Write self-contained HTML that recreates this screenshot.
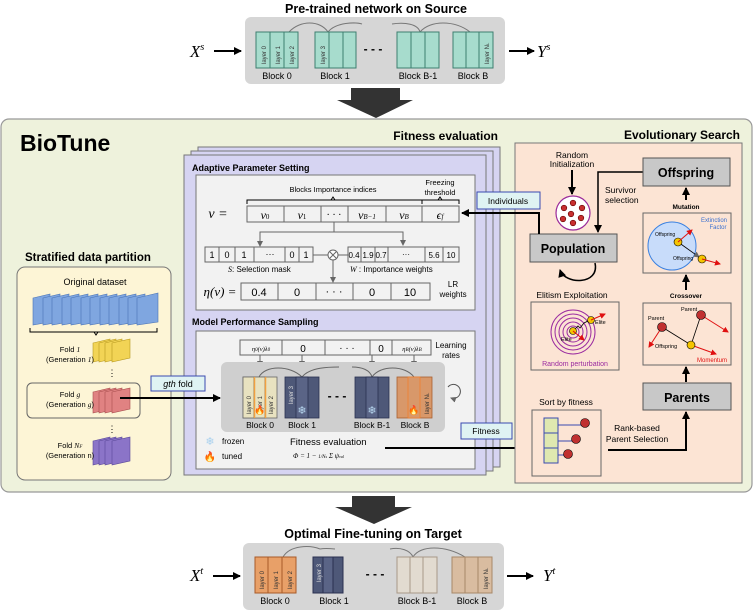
<!DOCTYPE html>
<html><head><meta charset="utf-8"><style>
html,body{margin:0;padding:0;background:#fff}
svg{display:block;font-family:"Liberation Sans",sans-serif}
.m{font-family:"Liberation Serif",serif;font-style:italic}
</style></head><body>
<svg width="753" height="611" viewBox="0 0 753 611" xmlns="http://www.w3.org/2000/svg">
<defs>
<marker id="ah" markerWidth="8" markerHeight="8" refX="7" refY="4" orient="auto" markerUnits="userSpaceOnUse"><path d="M0,0 L8,4 L0,8 z" fill="#000"/></marker>
<marker id="ahs" markerWidth="6" markerHeight="6" refX="5" refY="3" orient="auto" markerUnits="userSpaceOnUse"><path d="M0,0 L6,3 L0,6 z" fill="#666"/></marker>
<marker id="ahr" markerWidth="6" markerHeight="6" refX="5" refY="3" orient="auto" markerUnits="userSpaceOnUse"><path d="M0,0 L6,3 L0,6 z" fill="#e01010"/></marker>
</defs>

<!-- TOP -->
<text x="376" y="13" font-size="12.5" font-weight="bold" text-anchor="middle">Pre-trained network on Source</text>
<rect x="245" y="17" width="260" height="67" rx="6" fill="#d6d6d6"/>
<path d="M289,32 C300,20 320,20 328,32 M328,32 C336,22 356,22 362,24" fill="none" stroke="#777"/>
<path d="M392,24 C405,22 418,24 420,32 M420,32 C430,20 455,20 470,32" fill="none" stroke="#777"/>
<g fill="#a7dccd" stroke="#3e7f70" stroke-width="1">
<rect x="256" y="32" width="42" height="36"/><rect x="256" y="32" width="14" height="36"/><rect x="270" y="32" width="14" height="36"/>
<rect x="315" y="32" width="41" height="36"/><rect x="315" y="32" width="14" height="36"/><rect x="329" y="32" width="14" height="36"/>
<rect x="397" y="32" width="42" height="36"/><rect x="397" y="32" width="14" height="36"/><rect x="411" y="32" width="14" height="36"/>
<rect x="453" y="32" width="40" height="36"/><rect x="453" y="32" width="13" height="36"/><rect x="466" y="32" width="13" height="36"/>
</g>
<g font-size="6" fill="#333">
<text transform="translate(266,64) rotate(-90)">layer 0</text><text transform="translate(280,64) rotate(-90)">layer 1</text><text transform="translate(294,64) rotate(-90)">layer 2</text>
<text transform="translate(325,64) rotate(-90)">layer 3</text><text transform="translate(489,64) rotate(-90)">layer N<tspan font-size="4">L</tspan></text>
</g>
<text x="373" y="53" font-size="12" font-weight="bold" text-anchor="middle">- - -</text>
<g font-size="9" text-anchor="middle"><text x="277" y="79">Block 0</text><text x="335" y="79">Block 1</text><text x="418" y="79">Block B-1</text><text x="473" y="79">Block B</text></g>
<text x="190" y="57" font-size="17" class="m">X<tspan font-size="10" dy="-7">s</tspan></text>
<line x1="214" y1="51" x2="241" y2="51" stroke="#000" stroke-width="2" marker-end="url(#ah)"/>
<line x1="509" y1="51" x2="534" y2="51" stroke="#000" stroke-width="2" marker-end="url(#ah)"/>
<text x="537" y="57" font-size="17" class="m">Y<tspan font-size="10" dy="-7">s</tspan></text>
<path d="M351,88 H400 V100 H413 L376,118 L337,100 H351 Z" fill="#333"/>

<!-- BIOTUNE -->
<rect x="1" y="119" width="751" height="373" rx="8" fill="#eef2dc" stroke="#999" stroke-width="1.2"/>
<text x="20" y="151" font-size="23" font-weight="bold">BioTune</text>
<text x="498" y="140" font-size="12" font-weight="bold" text-anchor="end">Fitness evaluation</text>
<text x="740" y="139" font-size="12" font-weight="bold" text-anchor="end">Evolutionary Search</text>

<!-- left -->
<text x="25" y="261" font-size="11.5" font-weight="bold">Stratified data partition</text>
<rect x="17" y="267" width="154" height="213" rx="8" fill="#fdf5d6" stroke="#777"/>
<text x="95" y="285" font-size="9" text-anchor="middle">Original dataset</text>
<g fill="#7fa6e0" stroke="#4a73b5" stroke-width="0.6">
<path d="M33,298 L50,294 L50,322 L33,325Z"/><path d="M43,298 L60,294 L60,322 L43,325Z"/><path d="M52,298 L69,294 L69,322 L52,325Z"/><path d="M62,298 L79,294 L79,322 L62,325Z"/><path d="M71,298 L88,294 L88,322 L71,325Z"/><path d="M81,298 L98,294 L98,322 L81,325Z"/><path d="M90,298 L107,294 L107,322 L90,325Z"/><path d="M100,298 L117,294 L117,322 L100,325Z"/><path d="M109,298 L126,294 L126,322 L109,325Z"/><path d="M119,298 L136,294 L136,322 L119,325Z"/><path d="M128,298 L145,294 L145,322 L128,325Z"/><path d="M137,298 L158,293 L158,322 L137,325Z"/>
</g>
<path d="M30,328 V332 H157 V328 M94,332 L96,335 L98,332" fill="none" stroke="#000" stroke-width="1"/>
<g fill="#f2d455" stroke="#b89a20" stroke-width="0.6"><path d="M93,343 L110,339 L110,358 L93,362Z"/><path d="M99,343 L116,339 L116,358 L99,362Z"/><path d="M105,343 L122,339 L122,358 L105,362Z"/><path d="M112,343 L130,339 L130,358 L112,362Z"/></g>
<text x="70" y="352" font-size="7.5" text-anchor="middle">Fold <tspan class="m">1</tspan></text>
<text x="70" y="362" font-size="7.5" text-anchor="middle">(Generation <tspan class="m">1</tspan>)</text>
<text x="112" y="376" font-size="9" text-anchor="middle">⋮</text>
<rect x="27" y="383" width="113" height="35" rx="5" fill="#fdf5d6" stroke="#666"/>
<g fill="#e08282" stroke="#a84e4e" stroke-width="0.6"><path d="M93,392 L110,388 L110,409 L93,413Z"/><path d="M99,392 L116,388 L116,409 L99,413Z"/><path d="M105,392 L122,388 L122,409 L105,413Z"/><path d="M112,392 L130,388 L130,409 L112,413Z"/></g>
<text x="70" y="397" font-size="7.5" text-anchor="middle">Fold <tspan class="m">g</tspan></text>
<text x="70" y="407" font-size="7.5" text-anchor="middle">(Generation <tspan class="m">g</tspan>)</text>
<text x="112" y="432" font-size="9" text-anchor="middle">⋮</text>
<g fill="#8b74c8" stroke="#5a4898" stroke-width="0.6"><path d="M93,441 L110,437 L110,461 L93,465Z"/><path d="M99,441 L116,437 L116,461 L99,465Z"/><path d="M105,441 L122,437 L122,461 L105,465Z"/><path d="M112,441 L130,437 L130,461 L112,465Z"/></g>
<text x="70" y="448" font-size="7.5" text-anchor="middle">Fold <tspan class="m">N<tspan font-size="5">F</tspan></tspan></text>
<text x="70" y="458" font-size="7.5" text-anchor="middle">(Generation n)</text>

<!-- purple stack -->
<rect x="198" y="147" width="302" height="320" fill="#d6d4f2" stroke="#777"/>
<rect x="191" y="151" width="302" height="320" fill="#d6d4f2" stroke="#777"/>
<rect x="184" y="155" width="302" height="320" fill="#d6d4f2" stroke="#777"/>
<text x="192" y="171" font-size="9" font-weight="bold">Adaptive Parameter Setting</text>
<rect x="196" y="175" width="279" height="135" fill="#f2f2f2" stroke="#777"/>
<text x="333" y="192" font-size="7.5" text-anchor="middle">Blocks Importance indices</text>
<text x="440" y="185" font-size="7.5" text-anchor="middle">Freezing</text>
<text x="440" y="195" font-size="7.5" text-anchor="middle">threshold</text>
<path d="M247,204 V200 H422 V204 M331,200 L333,197 L335,200 M422,200 H459 V204 M438,200 L440,197 L442,200" fill="none" stroke="#000"/>
<text x="218" y="218" font-size="14" class="m" text-anchor="middle">ν =</text>
<g fill="#f2f2f2" stroke="#666"><rect x="247" y="206" width="212" height="16"/></g>
<path d="M284,206 V222 M321,206 V222 M348,206 V222 M386,206 V222 M422,206 V222" stroke="#666"/>
<g font-size="12" class="m" text-anchor="middle"><text x="265" y="219">ν<tspan font-size="7" font-style="normal">0</tspan></text><text x="302" y="219">ν<tspan font-size="7" font-style="normal">1</tspan></text><text x="334" y="218" font-style="normal" font-size="10">· · ·</text><text x="367" y="219">ν<tspan font-size="7">B−1</tspan></text><text x="404" y="219">ν<tspan font-size="7">B</tspan></text><text x="440" y="219">ϵ<tspan font-size="7">f</tspan></text></g>
<path d="M334,222 V232 H260 V245 M334,232 H403 V245" fill="none" stroke="#666" marker-end="url(#ahs)"/>
<line x1="260" y1="232" x2="260" y2="246" stroke="#666" marker-end="url(#ahs)"/>
<rect x="205" y="247" width="108" height="15" fill="#f2f2f2" stroke="#666"/>
<path d="M219,247 V262 M235,247 V262 M254,247 V262 M285,247 V262 M299,247 V262" stroke="#666"/>
<g font-size="9" text-anchor="middle"><text x="212" y="258">1</text><text x="227" y="258">0</text><text x="244" y="258">1</text><text x="270" y="257">···</text><text x="292" y="258">0</text><text x="306" y="258">1</text></g>
<line x1="313" y1="255" x2="328" y2="255" stroke="#666"/><line x1="338" y1="255" x2="348" y2="255" stroke="#666"/>
<circle cx="333" cy="255" r="5" fill="#fff" stroke="#666"/><path d="M330,252 L336,258 M336,252 L330,258" stroke="#666"/>
<line x1="333" y1="260" x2="333" y2="282" stroke="#666" marker-end="url(#ahs)"/>
<rect x="348" y="247" width="111" height="15" fill="#f2f2f2" stroke="#666"/>
<path d="M361,247 V262 M375,247 V262 M388,247 V262 M425,247 V262 M443,247 V262" stroke="#666"/>
<g font-size="8" text-anchor="middle"><text x="354" y="258">0.4</text><text x="368" y="258">1.9</text><text x="381" y="258">0.7</text><text x="406" y="257">···</text><text x="434" y="258">5.6</text><text x="451" y="258">10</text></g>
<text x="228" y="272" font-size="8"><tspan class="m">S</tspan>: Selection mask</text>
<text x="350" y="272" font-size="8"><tspan class="m">W</tspan> : Importance weights</text>
<text x="220" y="296" font-size="13" class="m" text-anchor="middle">η(ν) =</text>
<rect x="241" y="283" width="189" height="17" fill="#f2f2f2" stroke="#666"/>
<path d="M278,283 V300 M316,283 V300 M353,283 V300 M391,283 V300" stroke="#666"/>
<g font-size="11" text-anchor="middle"><text x="259" y="296">0.4</text><text x="297" y="296">0</text><text x="334" y="295">· · ·</text><text x="372" y="296">0</text><text x="410" y="296">10</text></g>
<text x="453" y="287" font-size="8" text-anchor="middle">LR</text><text x="453" y="297" font-size="8" text-anchor="middle">weights</text>

<text x="192" y="325" font-size="9" font-weight="bold">Model Performance Sampling</text>
<rect x="196" y="331" width="279" height="138" fill="#f2f2f2" stroke="#777"/>
<rect x="240" y="340" width="191" height="15" fill="#f2f2f2" stroke="#666"/>
<path d="M282,340 V355 M325,340 V355 M370,340 V355 M392,340 V355" stroke="#666"/>
<g text-anchor="middle"><text x="261" y="351" font-size="6.5" class="m">η<tspan font-size="5">0</tspan>(ν)λ<tspan font-size="5">0</tspan></text><text x="303" y="352" font-size="10">0</text><text x="347" y="351" font-size="10">· · ·</text><text x="381" y="352" font-size="10">0</text><text x="412" y="351" font-size="6.5" class="m">η<tspan font-size="5">B</tspan>(ν)λ<tspan font-size="5">B</tspan></text></g>
<text x="451" y="348" font-size="8" text-anchor="middle">Learning</text><text x="451" y="358" font-size="8" text-anchor="middle">rates</text>
<g stroke="#666" marker-end="url(#ahs)"><line x1="260" y1="355" x2="260" y2="366"/><line x1="302" y1="355" x2="302" y2="366"/><line x1="372" y1="355" x2="372" y2="366"/><line x1="414" y1="355" x2="414" y2="366"/></g>
<rect x="221" y="362" width="224" height="70" rx="6" fill="#cfcfcf"/>
<path d="M259,377 C265,365 290,365 302,377 M302,377 C310,367 330,367 339,367" fill="none" stroke="#666"/>
<path d="M352,367 C362,367 370,370 372,377 M372,377 C380,365 405,365 414,377" fill="none" stroke="#666"/>
<g stroke="#666" stroke-width="0.8">
<rect x="243" y="377" width="34" height="41" fill="#e8e2c0"/><rect x="243" y="377" width="11" height="41" fill="#e8e2c0"/><rect x="254" y="377" width="11" height="41" fill="#e8e2c0"/>
<line x1="254.5" y1="377" x2="254.5" y2="418" stroke="#f0a040" stroke-width="1.5"/><line x1="265.5" y1="377" x2="265.5" y2="418" stroke="#f0a040" stroke-width="1.5"/>
<rect x="285" y="377" width="34" height="41" fill="#4e5878" stroke="#2a3050"/><rect x="296" y="377" width="12" height="41" fill="#5a6486" stroke="#2a3050"/>
<rect x="355" y="377" width="34" height="41" fill="#4e5878" stroke="#2a3050"/><rect x="366" y="377" width="12" height="41" fill="#5a6486" stroke="#2a3050"/>
<rect x="397" y="377" width="35" height="41" fill="#d8986a" stroke="#a86030"/><rect x="408" y="377" width="12" height="41" fill="#d8986a" stroke="#f08030"/>
</g>
<g font-size="6" fill="#333"><text transform="translate(251,414) rotate(-90)">layer 0</text><text transform="translate(262,414) rotate(-90)">layer 1</text><text transform="translate(273,414) rotate(-90)">layer 2</text><text transform="translate(293,404) rotate(-90)" fill="#ddd">layer 3</text><text transform="translate(429,414) rotate(-90)">layer N<tspan font-size="4">L</tspan></text></g>
<text x="260" y="413" font-size="9" text-anchor="middle" fill="#f06010">🔥</text>
<text x="302" y="414" font-size="11" text-anchor="middle" fill="#b8d8f0">❄</text>
<text x="372" y="414" font-size="11" text-anchor="middle" fill="#b8d8f0">❄</text>
<text x="414" y="413" font-size="9" text-anchor="middle" fill="#f06010">🔥</text>
<text x="337" y="400" font-size="12" font-weight="bold" text-anchor="middle">- - -</text>
<g font-size="8.5" text-anchor="middle"><text x="260" y="428">Block 0</text><text x="302" y="428">Block 1</text><text x="372" y="428">Block B-1</text><text x="415" y="428">Block B</text></g>
<path d="M448,387 A7,7 0 1,1 451,398" fill="none" stroke="#555" marker-end="url(#ahs)"/>
<text x="210" y="445" font-size="11" fill="#a8d0ee" text-anchor="middle">❄</text><text x="222" y="444" font-size="8">frozen</text>
<text x="210" y="460" font-size="10" fill="#f06010" text-anchor="middle">🔥</text><text x="222" y="459" font-size="8">tuned</text>
<text x="290" y="445" font-size="9.5">Fitness evaluation</text>
<text x="293" y="458" font-size="7" class="m">Φ = 1 − <tspan font-size="5">1/N<tspan font-size="4">s</tspan></tspan> Σ ψ<tspan font-size="4">val</tspan></text>
<line x1="385" y1="448" x2="531" y2="448" stroke="#000" stroke-width="2" marker-end="url(#ah)"/>
<rect x="461" y="423" width="51" height="16" fill="#dff3f3" stroke="#3a4ab0"/>
<text x="486" y="434" font-size="8.5" text-anchor="middle">Fitness</text>

<!-- gth fold connector (on top of panels) -->
<line x1="120" y1="398" x2="220" y2="398" stroke="#000" stroke-width="2" marker-end="url(#ah)"/>
<rect x="151" y="376" width="54" height="15" fill="#dff3f3" stroke="#3a4ab0"/>
<text x="178" y="387" font-size="9" text-anchor="middle"><tspan font-style="italic">gth</tspan> fold</text>

<!-- evolutionary -->
<rect x="515" y="143" width="227" height="340" fill="#fce4d4" stroke="#777"/>
<text x="572" y="158" font-size="8.5" text-anchor="middle">Random</text>
<text x="572" y="167" font-size="8.5" text-anchor="middle">Initialization</text>
<line x1="572" y1="170" x2="572" y2="194" stroke="#000" stroke-width="2" marker-end="url(#ah)"/>
<circle cx="573" cy="213" r="17" fill="#fff" stroke="#9a2a9a" stroke-width="1.2"/>
<g fill="#c83030" stroke="#600" stroke-width="0.6"><circle cx="573" cy="203" r="2.8"/><circle cx="564" cy="208" r="2.8"/><circle cx="582" cy="208" r="2.8"/><circle cx="571" cy="214" r="2.8"/><circle cx="563" cy="219" r="2.8"/><circle cx="581" cy="218" r="2.8"/><circle cx="573" cy="223" r="2.8"/></g>
<rect x="530" y="234" width="87" height="28" fill="#c8c8c8" stroke="#555"/>
<text x="573" y="253" font-size="12.5" font-weight="bold" text-anchor="middle">Population</text>
<path d="M643,172 H598 V232" fill="none" stroke="#000" stroke-width="1.5" marker-end="url(#ah)"/>
<text x="605" y="193" font-size="8.5">Survivor</text><text x="605" y="203" font-size="8.5">selection</text>
<path d="M539,234 V213 H462" fill="none" stroke="#000" stroke-width="2" marker-end="url(#ah)"/>
<rect x="477" y="192" width="63" height="17" fill="#dff3f3" stroke="#3a4ab0"/>
<text x="508" y="204" font-size="8.5" text-anchor="middle">Individuals</text>
<path d="M595,263 C600,285 565,285 560,270" fill="none" stroke="#000" stroke-width="1.5" marker-end="url(#ah)"/>
<text x="572" y="298" font-size="8.5" text-anchor="middle">Elitism Exploitation</text>
<rect x="531" y="302" width="88" height="68" fill="#fce4d4" stroke="#666"/>
<g fill="none" stroke="#9a2aa0" stroke-width="1"><circle cx="573" cy="332" r="6"/><circle cx="573" cy="332" r="10"/><circle cx="573" cy="332" r="14"/><circle cx="573" cy="332" r="18"/><circle cx="573" cy="332" r="22"/></g>
<path d="M573,331 L578,326 L580,328 L584,323 L588,321" fill="none" stroke="#000" stroke-width="0.8"/>
<circle cx="573" cy="331" r="3.5" fill="#f5c400" stroke="#000" stroke-width="0.6"/><circle cx="591" cy="320" r="3.5" fill="#f5c400" stroke="#000" stroke-width="0.6"/>
<line x1="573" y1="331" x2="584" y2="340" stroke="#e01010" marker-end="url(#ahr)"/><line x1="591" y1="320" x2="605" y2="314" stroke="#e01010" marker-end="url(#ahr)"/>
<text x="561" y="341" font-size="5.5">Elite</text><text x="595" y="324" font-size="5.5">Elite</text>
<text x="575" y="366" font-size="7" fill="#9a2aa0" text-anchor="middle">Random perturbation</text>

<rect x="643" y="158" width="87" height="28" fill="#c8c8c8" stroke="#555"/>
<text x="686" y="177" font-size="12.5" font-weight="bold" text-anchor="middle">Offspring</text>
<line x1="686" y1="200" x2="686" y2="188" stroke="#000" stroke-width="2" marker-end="url(#ah)"/>
<text x="686" y="209" font-size="6.5" font-weight="bold" text-anchor="middle">Mutation</text>
<rect x="643" y="213" width="88" height="60" fill="#fce4d4" stroke="#666"/>
<circle cx="672" cy="246" r="24" fill="#c8dcfa" stroke="#3a80e0" stroke-width="1"/>
<text x="714" y="222" font-size="6" fill="#3a70d0" text-anchor="middle">Extinction</text><text x="718" y="229" font-size="6" fill="#3a70d0" text-anchor="middle">Factor</text>
<line x1="678" y1="242" x2="699" y2="257" stroke="#000" stroke-width="0.8" marker-end="url(#ahs)"/>
<circle cx="678" cy="242" r="4" fill="#f5c400" stroke="#000" stroke-width="0.6"/><circle cx="702" cy="259" r="4" fill="#f5c400" stroke="#000" stroke-width="0.6"/>
<line x1="678" y1="242" x2="692" y2="230" stroke="#e01010" marker-end="url(#ahr)"/><line x1="702" y1="259" x2="720" y2="264" stroke="#e01010" marker-end="url(#ahr)"/>
<text x="655" y="236" font-size="5">Offspring</text><text x="673" y="260" font-size="5">Offspring</text>
<line x1="686" y1="290" x2="686" y2="275" stroke="#000" stroke-width="2" marker-end="url(#ah)"/>
<text x="686" y="298" font-size="6.5" font-weight="bold" text-anchor="middle">Crossover</text>
<rect x="643" y="303" width="88" height="62" fill="#fce4d4" stroke="#666"/>
<path d="M662,327 L691,345 L701,315" fill="none" stroke="#000" stroke-width="0.8"/>
<line x1="662" y1="327" x2="649" y2="347" stroke="#e01010" marker-end="url(#ahr)"/><line x1="701" y1="315" x2="728" y2="332" stroke="#e01010" marker-end="url(#ahr)"/><line x1="691" y1="345" x2="716" y2="354" stroke="#e01010" marker-end="url(#ahr)"/>
<circle cx="662" cy="327" r="4.5" fill="#c03030" stroke="#000" stroke-width="0.6"/><circle cx="701" cy="315" r="4.5" fill="#c03030" stroke="#000" stroke-width="0.6"/><circle cx="691" cy="345" r="4" fill="#f5c400" stroke="#000" stroke-width="0.6"/>
<text x="648" y="320" font-size="5.5">Parent</text><text x="681" y="311" font-size="5.5">Parent</text><text x="655" y="348" font-size="5.5">Offspring</text>
<text x="727" y="362" font-size="6" fill="#e01010" text-anchor="end">Momentum</text>
<line x1="686" y1="382" x2="686" y2="367" stroke="#000" stroke-width="2" marker-end="url(#ah)"/>
<rect x="643" y="383" width="88" height="27" fill="#c8c8c8" stroke="#555"/>
<text x="687" y="402" font-size="12.5" font-weight="bold" text-anchor="middle">Parents</text>
<text x="566" y="405" font-size="8.5" text-anchor="middle">Sort by fitness</text>
<rect x="532" y="410" width="69" height="66" fill="#fce4d4" stroke="#666"/>
<rect x="544" y="418" width="14" height="45" fill="#dfe8b0" stroke="#3a4ab0"/>
<path d="M544,433 H558 M544,448 H558" stroke="#3a4ab0"/>
<path d="M558,425 H585 M558,441 H576 M558,455 H568" stroke="#3a4ab0"/>
<g fill="#c03030" stroke="#000" stroke-width="0.6"><circle cx="585" cy="423" r="4.5"/><circle cx="576" cy="439" r="4.5"/><circle cx="568" cy="454" r="4.5"/></g>
<text x="637" y="431" font-size="8.5" text-anchor="middle">Rank-based</text>
<text x="637" y="442" font-size="8.5" text-anchor="middle">Parent Selection</text>
<path d="M608,450 H686 V412" fill="none" stroke="#000" stroke-width="2" marker-end="url(#ah)"/>

<!-- BOTTOM -->
<path d="M352,496 H395 V507 H412 L374,524 L335,507 H352 Z" fill="#333"/>
<text x="373" y="538" font-size="12.5" font-weight="bold" text-anchor="middle">Optimal Fine-tuning on Target</text>
<rect x="243" y="543" width="261" height="67" rx="6" fill="#d6d6d6"/>
<path d="M283,557 C290,545 310,545 320,549 M320,549 C325,548 335,549 335,549 M390,549 C400,547 410,550 413,557 M413,557 C420,545 445,545 465,557" fill="none" stroke="#777"/>
<g stroke-width="1">
<rect x="255" y="557" width="41" height="36" fill="#e8a068" stroke="#a85a28"/><rect x="255" y="557" width="13" height="36" fill="#e8a068" stroke="#a85a28"/><rect x="268" y="557" width="14" height="36" fill="#e8a068" stroke="#a85a28"/>
<rect x="313" y="557" width="30" height="36" fill="#4e5878" stroke="#2a3050"/><rect x="323" y="557" width="10" height="36" fill="#5a6486" stroke="#2a3050"/>
<rect x="397" y="557" width="40" height="36" fill="#e2dbd0" stroke="#a89888"/><rect x="410" y="557" width="13" height="36" fill="#e2dbd0" stroke="#a89888"/>
<rect x="452" y="557" width="40" height="36" fill="#d9bca0" stroke="#a88868"/><rect x="465" y="557" width="13" height="36" fill="#d9bca0" stroke="#a88868"/>
</g>
<g font-size="6" fill="#333"><text transform="translate(264,589) rotate(-90)">layer 0</text><text transform="translate(278,589) rotate(-90)">layer 1</text><text transform="translate(292,589) rotate(-90)">layer 2</text><text transform="translate(321,582) rotate(-90)" fill="#ddd">layer 3</text><text transform="translate(488,589) rotate(-90)">layer N<tspan font-size="4">L</tspan></text></g>
<text x="375" y="578" font-size="12" font-weight="bold" text-anchor="middle">- - -</text>
<g font-size="9" text-anchor="middle"><text x="275" y="604">Block 0</text><text x="334" y="604">Block 1</text><text x="417" y="604">Block B-1</text><text x="472" y="604">Block B</text></g>
<text x="190" y="581" font-size="17" class="m">X<tspan font-size="10" dy="-7">t</tspan></text>
<line x1="213" y1="576" x2="240" y2="576" stroke="#000" stroke-width="2" marker-end="url(#ah)"/>
<line x1="507" y1="576" x2="533" y2="576" stroke="#000" stroke-width="2" marker-end="url(#ah)"/>
<text x="543" y="581" font-size="17" class="m">Y<tspan font-size="10" dy="-7">t</tspan></text>
</svg>
</body></html>
